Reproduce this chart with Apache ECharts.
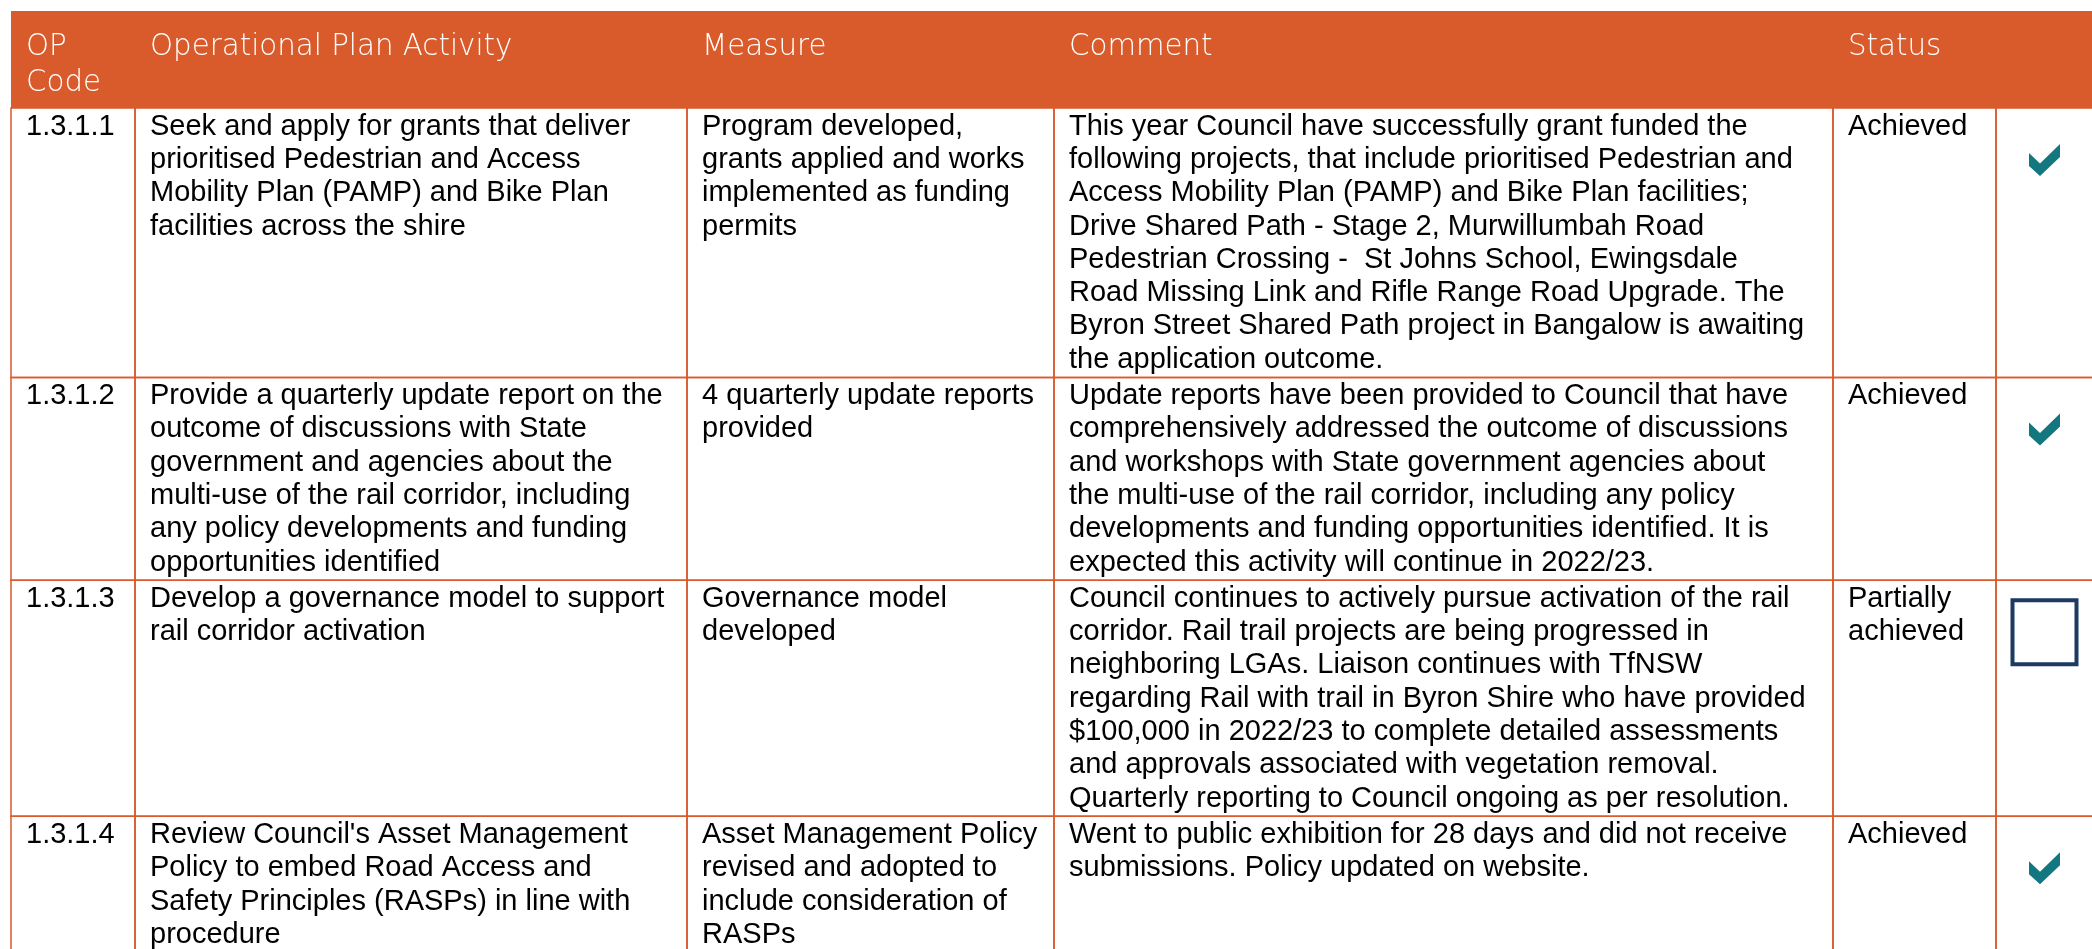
<!DOCTYPE html>
<html><head><meta charset="utf-8">
<script src="https://cdn.jsdelivr.net/npm/echarts@6/dist/echarts.min.js"></script>
<style>html,body{margin:0;padding:0;background:#fff}#c{width:2092px;height:949px}</style>
</head><body><div id="c"></div>
<script>
// ---------- data ----------
const headers = ['OP\nCode', 'Operational Plan Activity', 'Measure', 'Comment', 'Status', ''];
const opCodes = ['1.3.1.1', '1.3.1.2', '1.3.1.3', '1.3.1.4'];
const activities = [
  'Seek and apply for grants that deliver\nprioritised Pedestrian and Access\nMobility Plan (PAMP) and Bike Plan\nfacilities across the shire',
  'Provide a quarterly update report on the\noutcome of discussions with State\ngovernment and agencies about the\nmulti-use of the rail corridor, including\nany policy developments and funding\nopportunities identified',
  'Develop a governance model to support\nrail corridor activation',
  "Review Council's Asset Management\nPolicy to embed Road Access and\nSafety Principles (RASPs) in line with\nprocedure"
];
const measures = [
  'Program developed,\ngrants applied and works\nimplemented as funding\npermits',
  '4 quarterly update reports\nprovided',
  'Governance model\ndeveloped',
  'Asset Management Policy\nrevised and adopted to\ninclude consideration of\nRASPs'
];
const comments = [
  'This year Council have successfully grant funded the\nfollowing projects, that include prioritised Pedestrian and\nAccess Mobility Plan (PAMP) and Bike Plan facilities;\nDrive Shared Path - Stage 2, Murwillumbah Road\nPedestrian Crossing -  St Johns School, Ewingsdale\nRoad Missing Link and Rifle Range Road Upgrade. The\nByron Street Shared Path project in Bangalow is awaiting\nthe application outcome.',
  'Update reports have been provided to Council that have\ncomprehensively addressed the outcome of discussions\nand workshops with State government agencies about\nthe multi-use of the rail corridor, including any policy\ndevelopments and funding opportunities identified. It is\nexpected this activity will continue in 2022/23.',
  'Council continues to actively pursue activation of the rail\ncorridor. Rail trail projects are being progressed in\nneighboring LGAs. Liaison continues with TfNSW\nregarding Rail with trail in Byron Shire who have provided\n$100,000 in 2022/23 to complete detailed assessments\nand approvals associated with vegetation removal.\nQuarterly reporting to Council ongoing as per resolution.',
  'Went to public exhibition for 28 days and did not receive\nsubmissions. Policy updated on website.'
];
const statuses = ['Achieved', 'Achieved', 'Partially\nachieved', 'Achieved'];

// ---------- layout / style ----------
const COL_W = [124, 552, 367, 779, 163, 97];
const HEAD_H = 97;
const LH = 33.3;
const ORANGE = '#D95A2B';
const TEAL = '#137780';
const NAVY = '#1D3A62';
const BODY_FONT = { fontFamily: '"Liberation Sans", Arial, sans-serif', fontSize: 29 };
const HEAD_FONT = { fontFamily: '"DejaVu Sans", sans-serif', fontSize: 29.3, fontWeight: 200 };

const colX = [0];
COL_W.forEach(w => colX.push(colX[colX.length - 1] + w));
const rowsText = opCodes.map((c, i) => [c, activities[i], measures[i], comments[i], statuses[i]]);
const rowY = [HEAD_H];
rowsText.forEach(r => {
  const n = Math.max(...r.map(t => t.split('\n').length));
  rowY.push(rowY[rowY.length - 1] + n * LH + 3);
});

// data items: [x0, y0, x1, y1, row, col]
const headData = headers.map((h, c) => [colX[c], 0, colX[c + 1], HEAD_H, -1, c]);
const cellData = [];
rowsText.forEach((r, ri) => {
  for (let c = 0; c < COL_W.length; c++) cellData.push([colX[c], rowY[ri], colX[c + 1], rowY[ri + 1], ri, c]);
});

function headRender(params, api) {
  const p0 = api.coord([api.value(0), api.value(1)]);
  const p1 = api.coord([api.value(2), api.value(3)]);
  const c = api.value(5);
  return { type: 'group', children: [
    { type: 'rect', shape: { x: p0[0], y: p0[1], width: p1[0] - p0[0] + 1, height: p1[1] - p0[1] }, style: { fill: ORANGE } },
    { type: 'text', x: p0[0] + 15, y: p0[1] + 18, style: Object.assign({ text: headers[c], fill: '#fff', lineHeight: 36, verticalAlign: 'top' }, HEAD_FONT) }
  ]};
}

function checkPath(cx, cy) {
  const pts = [[0, 9], [11, 19.5], [31, 0], [31, 13], [11, 32], [0, 22]];
  return pts.map(p => [cx - 15.5 + p[0], cy - 16 + p[1]]);
}

function cellRender(params, api) {
  const p0 = api.coord([api.value(0), api.value(1)]);
  const p1 = api.coord([api.value(2), api.value(3)]);
  const r = api.value(4), c = api.value(5);
  const children = [
    { type: 'rect', shape: { x: p0[0], y: p0[1], width: p1[0] - p0[0], height: p1[1] - p0[1] }, style: { fill: 'none', stroke: ORANGE, lineWidth: 1.5 } }
  ];
  if (c < 5) {
    children.push({ type: 'text', x: p0[0] + 15, y: p0[1] + 2, style: Object.assign({ text: rowsText[r][c], fill: '#000', lineHeight: LH, verticalAlign: 'top' }, BODY_FONT) });
  } else {
    const cx = (p0[0] + p1[0]) / 2, cy = p0[1] + 52;
    if (statuses[r] === 'Achieved') {
      children.push({ type: 'polygon', shape: { points: checkPath(cx, cy) }, style: { fill: TEAL } });
    } else {
      children.push({ type: 'rect', shape: { x: cx - 32, y: cy - 32, width: 64, height: 64 }, style: { fill: 'none', stroke: NAVY, lineWidth: 4 } });
    }
  }
  return { type: 'group', children };
}

const chart = echarts.init(document.getElementById('c'), null, { renderer: 'canvas' });
chart.setOption({
  animation: false,
  grid: { left: 11, right: 0, top: 11, bottom: 0 },
  xAxis: { type: 'value', min: 0, max: 2081, show: false },
  yAxis: { type: 'value', min: 0, max: 938, inverse: true, show: false },
  series: [
    { type: 'custom', renderItem: cellRender, data: cellData, clip: false, silent: true },
    { type: 'custom', renderItem: headRender, data: headData, clip: false, silent: true }
  ]
});
</script></body></html>
